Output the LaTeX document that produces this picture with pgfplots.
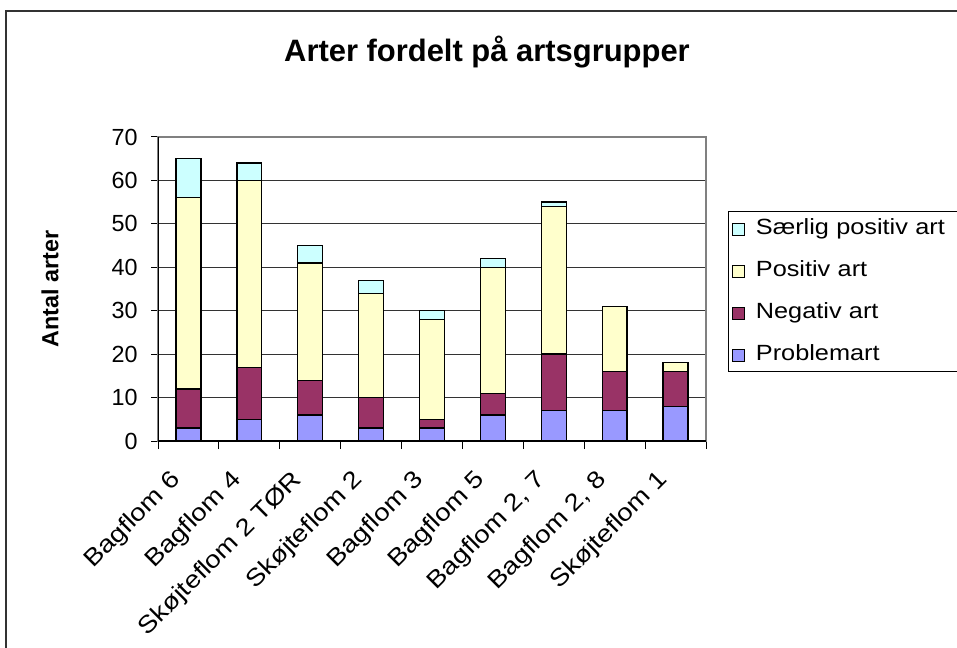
\documentclass[border=0pt]{standalone}
\usepackage{pgfplots}
\pgfplotsset{compat=1.18}
\usepackage{fontspec}
\setmainfont{Liberation Sans}
\newfontfamily\wide{Liberation Sans}[FakeStretch=1.15]
\definecolor{cProb}{HTML}{9999FF}
\definecolor{cNeg}{HTML}{993366}
\definecolor{cPos}{HTML}{FFFFCC}
\definecolor{cSpos}{HTML}{CCFFFF}
\begin{document}
\begin{tikzpicture}
\path[use as bounding box] (0,0) rectangle (717.75pt,-486pt);
\draw[black!80, line width=1.2pt] (4.5pt,-486pt) -- (4.5pt,-8.25pt) -- (717.75pt,-8.25pt);
\node[font=\bfseries\fontsize{23.2}{27}\selectfont] at (365.25pt,-39pt) {Arter fordelt på artsgrupper};
\node[font=\bfseries\fontsize{17.5}{20}\selectfont, rotate=90] at (37.5pt,-216.75pt) {Antal arter};
\begin{axis}[
  at={(118.5pt,-330.75pt)}, anchor=south west,
  scale only axis, width=411pt, height=228pt,
  ybar stacked, bar width=18.6pt,
  xmin=-0.5, xmax=8.5, ymin=0, ymax=70,
  ytick={0,10,...,70},
  xtick={0,...,8},
  xtick pos=bottom, ytick pos=left,
  xticklabels={Bagflom 6,Bagflom 4,Skøjteflom 2 TØR,Skøjteflom 2,Bagflom 3,Bagflom 5,{Bagflom 2, 7},{Bagflom 2, 8},Skøjteflom 1},
  minor xtick={-0.5,0.5,...,8.5},
  tick align=outside,
  major x tick style={draw=none},
  minor tick length=6pt, major tick length=5.25pt,
  tick style={black, line width=0.75pt},
  ymajorgrids, grid style={black!80, line width=0.75pt},
  axis line style={draw=gray, line width=1pt},
  /pgf/number format/assume math mode=true,
  yticklabel style={font=\fontsize{17.5}{20}\selectfont, xshift=-6.5pt},
  xticklabel style={font=\wide\fontsize{18}{20}\selectfont, xshift=-6.25pt, yshift=-19pt, rotate=45, anchor=east},
  reverse legend,
  legend style={at={(1.04,0.755)}, anchor=north west, draw=black, line width=0.75pt,
    font=\wide\fontsize{16.5}{20}\selectfont, inner sep=3pt, row sep=12pt,
    nodes={inner sep=2pt, text height=12pt, text depth=3.5pt, text width=152pt, align=left},
    /tikz/every odd column/.append style={column sep=6pt}},
  legend cell align=left,
  legend image code/.code={\draw[#1, draw=black, line width=0.6pt] (7.5pt,-4.5pt) rectangle (16.5pt,4.5pt);},
]
\addplot[fill=cProb, draw=black, line width=1pt] coordinates {(0,3) (1,5) (2,6) (3,3) (4,3) (5,6) (6,7) (7,7) (8,8)};
\addplot[fill=cNeg, draw=black, line width=1pt] coordinates {(0,9) (1,12) (2,8) (3,7) (4,2) (5,5) (6,13) (7,9) (8,8)};
\addplot[fill=cPos, draw=black, line width=1pt] coordinates {(0,44) (1,43) (2,27) (3,24) (4,23) (5,29) (6,34) (7,15) (8,2)};
\addplot[fill=cSpos, draw=black, line width=1pt] coordinates {(0,9) (1,4) (2,4) (3,3) (4,2) (5,2) (6,1) (7,0) (8,0)};
\legend{Problemart,Negativ art,Positiv art,Særlig positiv art}
\draw[black, line width=1pt] (rel axis cs:0,1) -- (rel axis cs:0,0) -- (rel axis cs:1,0);
\end{axis}
\end{tikzpicture}
\end{document}
